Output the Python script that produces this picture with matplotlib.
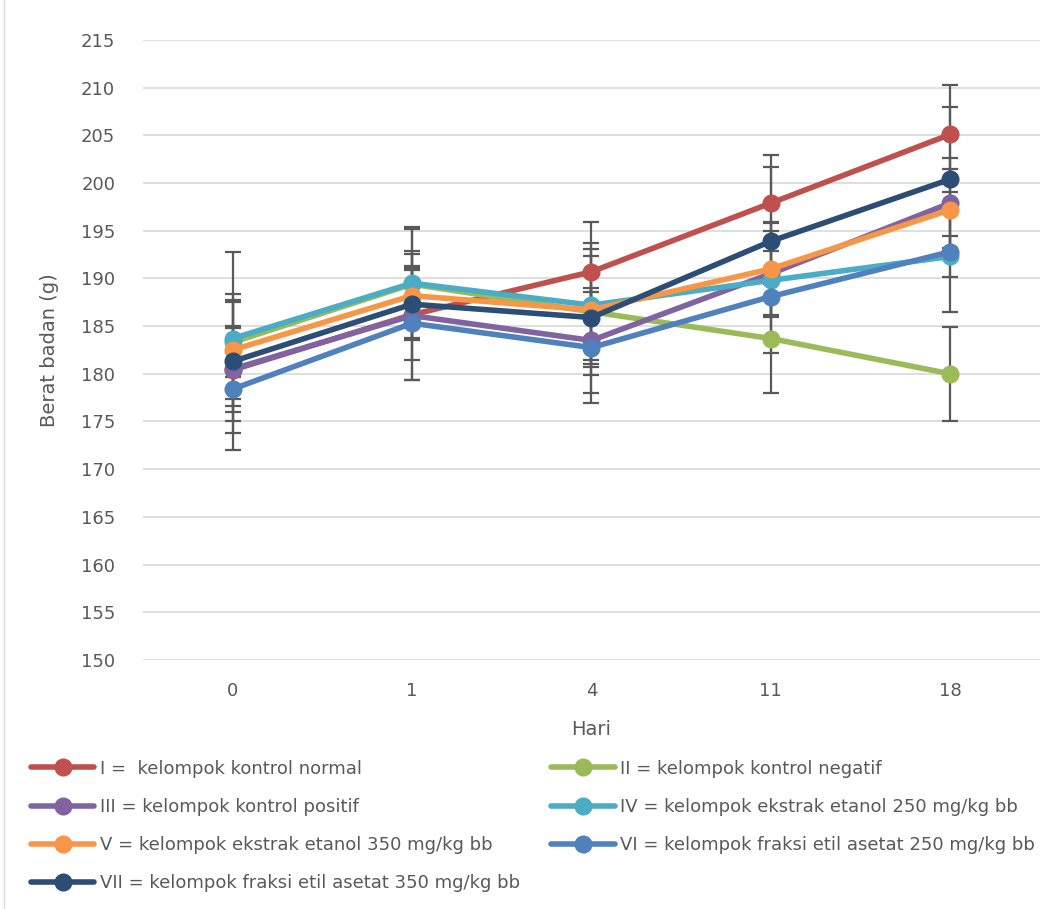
import numpy as np
import matplotlib
matplotlib.use("Agg")
import matplotlib.pyplot as plt

# data
hari = ['0', '1', '4', '11', '18']

labels = [
    'I =  kelompok kontrol normal',
    'II = kelompok kontrol negatif',
    'III = kelompok kontrol positif',
    'IV = kelompok ekstrak etanol 250 mg/kg bb',
    'V = kelompok ekstrak etanol 350 mg/kg bb',
    'VI = kelompok fraksi etil asetat 250 mg/kg bb',
    'VII = kelompok fraksi etil asetat 350 mg/kg bb',
]

g1 = [180.4, 186.2, 190.7, 197.9, 205.1]
g2 = [183.3, 189.4, 186.5, 183.7, 180.0]
g3 = [180.5, 186.1, 183.5, 190.5, 197.9]
g4 = [183.7, 189.5, 187.2, 189.8, 192.3]
g5 = [182.5, 188.2, 186.7, 191.0, 197.2]
g6 = [178.4, 185.3, 182.75, 188.1, 192.8]
g7 = [181.3, 187.3, 185.9, 193.9, 200.4]

sd1 = [3.0, 4.7, 5.2, 5.0, 5.2]
sd2 = [9.5, 5.8, 6.6, 5.7, 4.9]
sd3 = [4.5, 6.8, 5.5, 4.5, 4.7]
sd4 = [4.0, 5.9, 6.5, 6.1, 2.1]
sd5 = [5.9, 4.4, 5.7, 4.8, 4.3]
sd6 = [6.4, 6.0, 5.85, 5.9, 6.3]
sd7 = [6.2, 3.8, 4.4, 7.8, 7.6]

colors = ['#C0504D', '#9BBB59', '#8064A2', '#4BACC6', '#F79646', '#4F81BD', '#2C4D75']

plt.rcParams['font.family'] = ['DejaVu Sans']

fig = plt.figure(figsize=(10.59, 9.09), dpi=100)
ax = fig.add_axes([0.135, 0.274, 0.847, 0.682])

series = [g1, g2, g3, g4, g5, g6, g7]
sds = [sd1, sd2, sd3, sd4, sd5, sd6, sd7]
x = np.arange(len(hari))

handles = []
for vals, sd in zip(series, sds):
    ax.errorbar(x, vals, yerr=sd, fmt='none', ecolor='#595959', elinewidth=1.6,
                capsize=6, capthick=1.6, zorder=2)
for i, vals in enumerate(series):
    h, = ax.plot(x, vals, color=colors[i], lw=4, marker='o', ms=12,
                 label=labels[i], zorder=3 + i * 0.1, solid_capstyle='round')
    handles.append(h)

ax.set_xlim(-0.5, 4.5)
ax.set_ylim(150, 215)
ax.set_yticks(np.arange(150, 216, 5))
ax.set_xticks(x)
ax.set_xticklabels(hari)
ax.yaxis.grid(True, color='#D9D9D9', lw=1.2)
ax.set_axisbelow(True)
for s in ax.spines.values():
    s.set_visible(False)
ax.tick_params(axis='y', length=0, labelsize=13, colors='#595959', pad=20)
ax.tick_params(axis='x', length=0, labelsize=13, colors='#595959', pad=16)
ax.set_ylabel('Berat badan (g)', fontsize=14, color='#595959', labelpad=16)
ax.set_xlabel('Hari', fontsize=14, color='#595959', labelpad=14)

# legend is filled column by column, so reorder to get the row order of the original
order = [0, 2, 4, 6, 1, 3, 5]
leg = fig.legend([handles[k] for k in order], [labels[k] for k in order],
                 loc='upper left', bbox_to_anchor=(0.014, 0.182), ncol=2,
                 frameon=False, fontsize=13, handlelength=3.5, handletextpad=0.3,
                 columnspacing=1.75, labelspacing=1.12)
for t in leg.get_texts():
    t.set_color('#595959')

fig.add_artist(plt.Line2D([0.004, 0.004], [0, 1], color='#D9D9D9', lw=1,
                          transform=fig.transFigure))

fig.savefig('out.png', dpi=100)
